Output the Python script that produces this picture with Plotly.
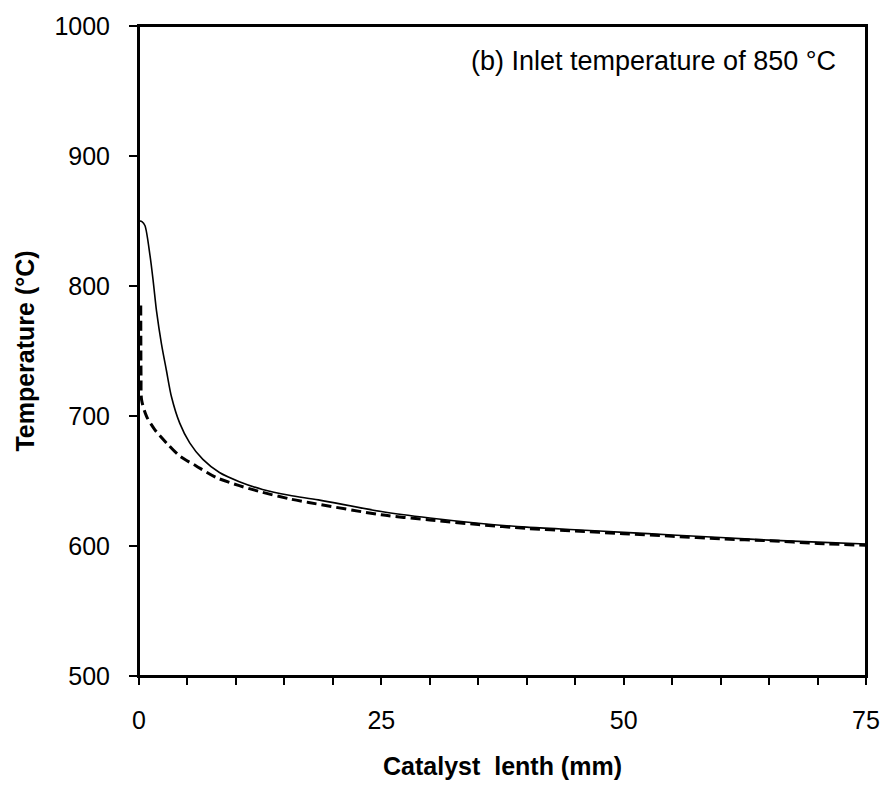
import plotly.graph_objects as go

# Solid curve - catalyst length (mm) vs temperature (°C)
solid_x = [0, 0.1, 0.3, 0.61, 1.13, 1.47, 1.81, 2.32, 2.83, 3.35, 4.2, 5.23, 6.59, 8.3,
           10.35, 12.74, 15.5, 18.5, 25, 30, 35, 40, 45, 50, 55, 60, 65, 70, 75]
solid_y = [850, 850, 849.5, 846.5, 823.7, 803.4, 780.6, 755.3, 735, 714.8, 694.5, 679.3, 666.6, 656.5,
           649.5, 643.5, 639, 635.5, 626.5, 621.5, 617.5, 614.5, 612.5, 610.5, 608.5, 606.5, 604.5, 603, 601.5]

# Dashed curve
dash_x = [0.18, 0.19, 0.21, 0.27, 0.79, 1.64, 2.83, 4.2, 5.9, 7.96, 10.35, 12.74, 15.5, 17.5,
          25, 30, 35, 40, 45, 50, 55, 60, 65, 70, 75]
dash_y = [785, 760, 730, 712.3, 699.6, 689.4, 679.3, 669.2, 661.6, 652.7, 646.4, 641.3, 636.3, 633.5,
          624, 620, 616.5, 613.5, 611.5, 609.5, 607.5, 605.5, 604, 602, 600.5]

x_ticks = [0, 25, 50, 75]
y_ticks = [500, 600, 700, 800, 900, 1000]

FONT = "Arial, Liberation Sans, sans-serif"

fig = go.Figure()
fig.add_trace(go.Scatter(x=solid_x, y=solid_y, mode="lines",
                         line=dict(color="black", width=1.6, shape="spline", smoothing=0.8),
                         showlegend=False, cliponaxis=False))
fig.add_trace(go.Scatter(x=dash_x, y=dash_y, mode="lines",
                         line=dict(color="black", width=3, dash="10px,5px", shape="spline", smoothing=0.8),
                         showlegend=False, cliponaxis=False))

fig.add_annotation(text="(b) Inlet temperature of 850 °C", xref="paper", yref="paper",
                   x=0.9617, y=0.946, xanchor="right", yanchor="middle", showarrow=False,
                   font=dict(family=FONT, size=27, color="black"))

# plot frame
fig.add_shape(type="rect", xref="paper", yref="paper", x0=0, y0=0, x1=1, y1=1,
              line=dict(color="black", width=2), fillcolor="rgba(0,0,0,0)", layer="below")

fig.update_layout(
    width=892, height=789,
    margin=dict(l=139, r=21, t=18, b=113),
    paper_bgcolor="white", plot_bgcolor="white",
    font=dict(family=FONT, size=25, color="black"),
    xaxis=dict(range=[0, 75], tickvals=x_ticks, ticktext=[str(v) for v in x_ticks],
               showgrid=False, zeroline=False, showline=True, linecolor="black", linewidth=2,
               mirror=True, ticks="outside", ticklen=7, tickwidth=2, tickcolor="black",
               ticklabelstandoff=14, ticklabeloverflow="allow",
               minor=dict(dtick=5, tick0=0, ticks="outside", ticklen=7, tickwidth=2, tickcolor="black", showgrid=False),
               title=dict(text="<b>Catalyst  lenth (mm)</b>", font=dict(family=FONT, size=25), standoff=24)),
    yaxis=dict(range=[500, 1000], tickvals=y_ticks, ticktext=[str(v) for v in y_ticks],
               showgrid=False, zeroline=False, showline=True, linecolor="black", linewidth=2,
               mirror=True, ticks="outside", ticklen=8, tickwidth=2, tickcolor="black",
               ticklabelstandoff=14, ticklabeloverflow="allow",
               title=dict(text="<b>Temperature (°C)</b>", font=dict(family=FONT, size=25), standoff=13)),
)

# Remove the browser's default 8px body margin so the figure sits at the page origin.
fig.write_html("out.html", config={"displayModeBar": False},
               post_script="document.body.style.margin='0';document.body.style.overflow='hidden';")
